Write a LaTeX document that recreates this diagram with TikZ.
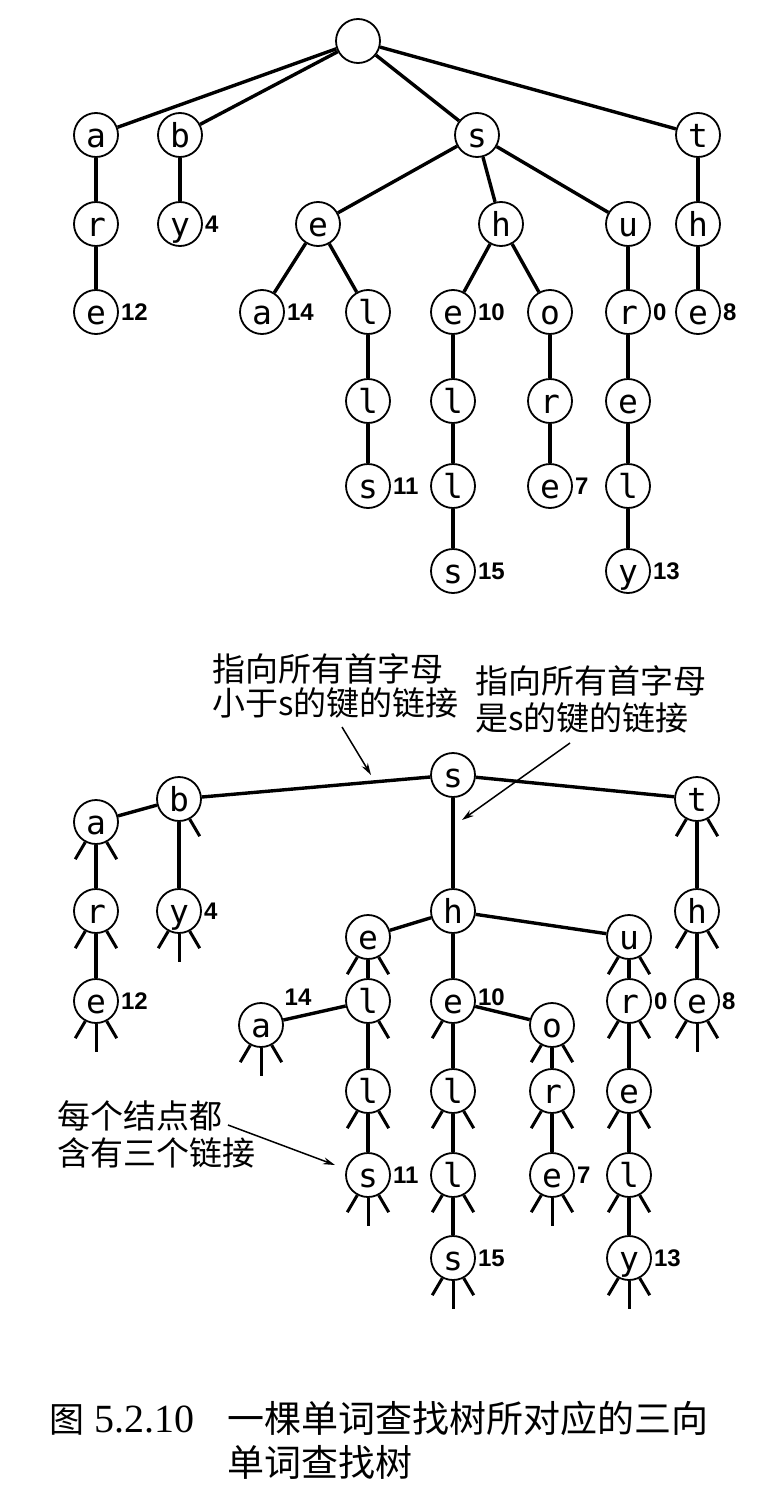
\documentclass[tikz,border=0pt]{standalone}
\usepackage{fontspec}
\setmainfont{Liberation Serif}
\newfontfamily\cjk{Noto Sans CJK SC}
\newfontfamily\letterfont{DejaVu Sans Mono}
\newfontfamily\numfont{Liberation Sans}
\usetikzlibrary{arrows.meta}
\tikzset{
  tn/.style={circle, draw, line width=1.8pt, minimum size=44pt, inner sep=0pt,
    text height=25pt, text depth=0pt, font=\letterfont\fontsize{33}{33}\selectfont},
  link/.style={line width=3.4pt},
  stubline/.style={line width=3pt},
  num/.style={anchor=west, inner sep=2pt, font=\numfont\bfseries\fontsize{24}{24}\selectfont},
  ann/.style={anchor=base west, inner sep=0pt, font=\cjk\fontsize{33}{37}\selectfont},
  captxt/.style={anchor=base west, inner sep=0pt, font=\cjk\fontsize{37}{37}\selectfont},
  arr/.style={line width=1.5pt, -{Stealth[length=12pt,width=7pt]}}
}
\newcommand{\StubL}[1]{\draw[stubline] (#1.-118) -- ++(-10,17);}
\newcommand{\StubM}[1]{\draw[stubline] (#1.south) -- ++(0,28);}
\newcommand{\StubR}[1]{\draw[stubline] (#1.-62) -- ++(10,17);}
\newcommand{\StubAll}[1]{\StubL{#1}\StubM{#1}\StubR{#1}}
\begin{document}
\begin{tikzpicture}[x=1pt,y=-1pt]
\useasboundingbox (0,0) rectangle (780,1509);

% ---------- top trie ----------
\node[tn] (troot) at (358,41) {};
\node[tn] (ta) at (96,135) {a};
\node[tn] (tb) at (180,135) {b};
\node[tn] (ts) at (477,135) {s};
\node[tn] (tt) at (698,135) {t};
\node[tn] (tar) at (96,224) {r};
\node[tn] (tby) at (180,224) {y};
\node[tn] (tse) at (318,224) {e};
\node[tn] (tsh) at (501,224) {h};
\node[tn] (tsu) at (628,224) {u};
\node[tn] (tth) at (698,224) {h};
\node[tn] (tare) at (96,312) {e};
\node[tn] (tsea) at (262,312) {a};
\node[tn] (tsel) at (368,312) {l};
\node[tn] (tshe) at (453,312) {e};
\node[tn] (tsho) at (550,312) {o};
\node[tn] (tsur) at (628,312) {r};
\node[tn] (tthe) at (698,312) {e};
\node[tn] (tsell) at (368,401) {l};
\node[tn] (tshel) at (453,401) {l};
\node[tn] (tshor) at (550,401) {r};
\node[tn] (tsure) at (628,401) {e};
\node[tn] (tsells) at (368,486) {s};
\node[tn] (tshell) at (453,486) {l};
\node[tn] (tshore) at (550,486) {e};
\node[tn] (tsurel) at (628,486) {l};
\node[tn] (tshells) at (453,571) {s};
\node[tn] (tsurely) at (628,571) {y};

\foreach \p/\c in {troot/ta,troot/tb,troot/ts,troot/tt,ta/tar,tar/tare,tb/tby,
  ts/tse,ts/tsh,ts/tsu,tt/tth,tth/tthe,tse/tsea,tse/tsel,tsel/tsell,tsell/tsells,
  tsh/tshe,tsh/tsho,tshe/tshel,tshel/tshell,tshell/tshells,tsho/tshor,tshor/tshore,
  tsu/tsur,tsur/tsure,tsure/tsurel,tsurel/tsurely}
  \draw[link] (\p) -- (\c);

\node[num] (tn4) at (tby.east) {4};
\node[num] (tn12) at (tare.east) {12};
\node[num] (tn14) at (tsea.east) {14};
\node[num] (tn10) at (tshe.east) {10};
\node[num] (tn0) at (tsur.east) {0};
\node[num] (tn8) at (tthe.east) {8};
\node[num] (tn11) at (tsells.east) {11};
\node[num] (tn7) at (tshore.east) {7};
\node[num] (tn15) at (tshells.east) {15};
\node[num] (tn13) at (tsurely.east) {13};

% ---------- ternary search trie ----------
\node[tn] (bs) at (453,775) {s};
\node[tn] (bb) at (179,799) {b};
\node[tn] (ba) at (96,822) {a};
\node[tn] (bt) at (697,799) {t};
\node[tn] (bar) at (96,911) {r};
\node[tn] (bby) at (179,911) {y};
\node[tn] (bh) at (453,911) {h};
\node[tn] (bth) at (697,911) {h};
\node[tn] (bhe) at (368,937) {e};
\node[tn] (bu) at (629,937) {u};
\node[tn] (bare) at (96,1001) {e};
\node[tn] (bel) at (368,1001) {l};
\node[tn] (bhe10) at (453,1001) {e};
\node[tn] (bur) at (629,1001) {r};
\node[tn] (bthe) at (697,1001) {e};
\node[tn] (ba14) at (261,1025) {a};
\node[tn] (bo) at (552,1025) {o};
\node[tn] (bell) at (368,1091) {l};
\node[tn] (bhel) at (453,1091) {l};
\node[tn] (bor) at (552,1091) {r};
\node[tn] (bure) at (629,1091) {e};
\node[tn] (bells) at (368,1175) {s};
\node[tn] (bhell) at (453,1175) {l};
\node[tn] (bore) at (552,1175) {e};
\node[tn] (burel) at (629,1175) {l};
\node[tn] (bhells) at (453,1258) {s};
\node[tn] (burely) at (629,1258) {y};

\foreach \p/\c in {bs/bb,bs/bh,bs/bt,bb/ba,bb/bby,ba/bar,bar/bare,bt/bth,bth/bthe,
  bh/bhe,bh/bhe10,bh/bu,bhe/bel,bel/ba14,bel/bell,bell/bells,
  bhe10/bhel,bhe10/bo,bhel/bhell,bhell/bhells,bo/bor,bor/bore,
  bu/bur,bur/bure,bure/burel,burel/burely}
  \draw[link] (\p) -- (\c);

% null links
\StubR{bb}
\StubL{ba}\StubR{ba}
\StubL{bar}\StubR{bar}
\StubAll{bare}
\StubAll{bby}
\StubL{bt}\StubR{bt}
\StubL{bth}\StubR{bth}
\StubAll{bthe}
\StubL{bhe}\StubR{bhe}
\StubR{bel}
\StubAll{ba14}
\StubL{bell}\StubR{bell}
\StubAll{bells}
\StubL{bhe10}
\StubL{bhel}\StubR{bhel}
\StubL{bhell}\StubR{bhell}
\StubAll{bhells}
\StubL{bo}\StubR{bo}
\StubL{bor}\StubR{bor}
\StubAll{bore}
\StubL{bu}\StubR{bu}
\StubL{bur}\StubR{bur}
\StubL{bure}\StubR{bure}
\StubL{burel}\StubR{burel}
\StubAll{burely}

\node[num] (bn4) at (bby.east) {4};
\node[num] (bn12) at (bare.east) {12};
\node[num, anchor=center] (bn14) at ([xshift=37pt,yshift=28pt]ba14.center) {14};
\node[num, yshift=4pt] (bn10) at (bhe10.east) {10};
\node[num] (bn0) at (bur.east) {0};
\node[num] (bn8) at (bthe.east) {8};
\node[num] (bn11) at (bells.east) {11};
\node[num] (bn7) at (bore.east) {7};
\node[num] (bn15) at (bhells.east) {15};
\node[num] (bn13) at (burely.east) {13};

% annotations
\node[ann] (ann1a) at (212,681) {指向所有首字母};
\node[ann] (ann1b) at (212,715) {小于s的键的链接};
\node[ann] (ann2a) at (475,693) {指向所有首字母};
\node[ann] (ann2b) at (475,730) {是s的键的链接};
\node[ann] (ann3a) at (57,1128) {每个结点都};
\node[ann] (ann3b) at (57,1165) {含有三个链接};
\coordinate (a1s) at (342,727);
\coordinate (a1e) at (371,775);
\coordinate (a2s) at (570,743);
\coordinate (a2e) at (462,820);
\coordinate (a3s) at (228,1125);
\coordinate (a3e) at (335,1165);
\draw[arr] (a1s) -- (a1e);
\draw[arr] (a2s) -- (a2e);
\draw[arr] (a3s) -- (a3e);

% caption
\node[anchor=base west, inner sep=0pt] (capnum) at (49,1432)
  {{\cjk\fontsize{35}{35}\selectfont 图}\hspace{10pt}{\fontsize{40}{40}\selectfont 5.2.10}};
\node[captxt] (cap1) at (227,1432) {一棵单词查找树所对应的三向};
\node[captxt] (cap2) at (227,1476) {单词查找树};
\end{tikzpicture}
\end{document}
